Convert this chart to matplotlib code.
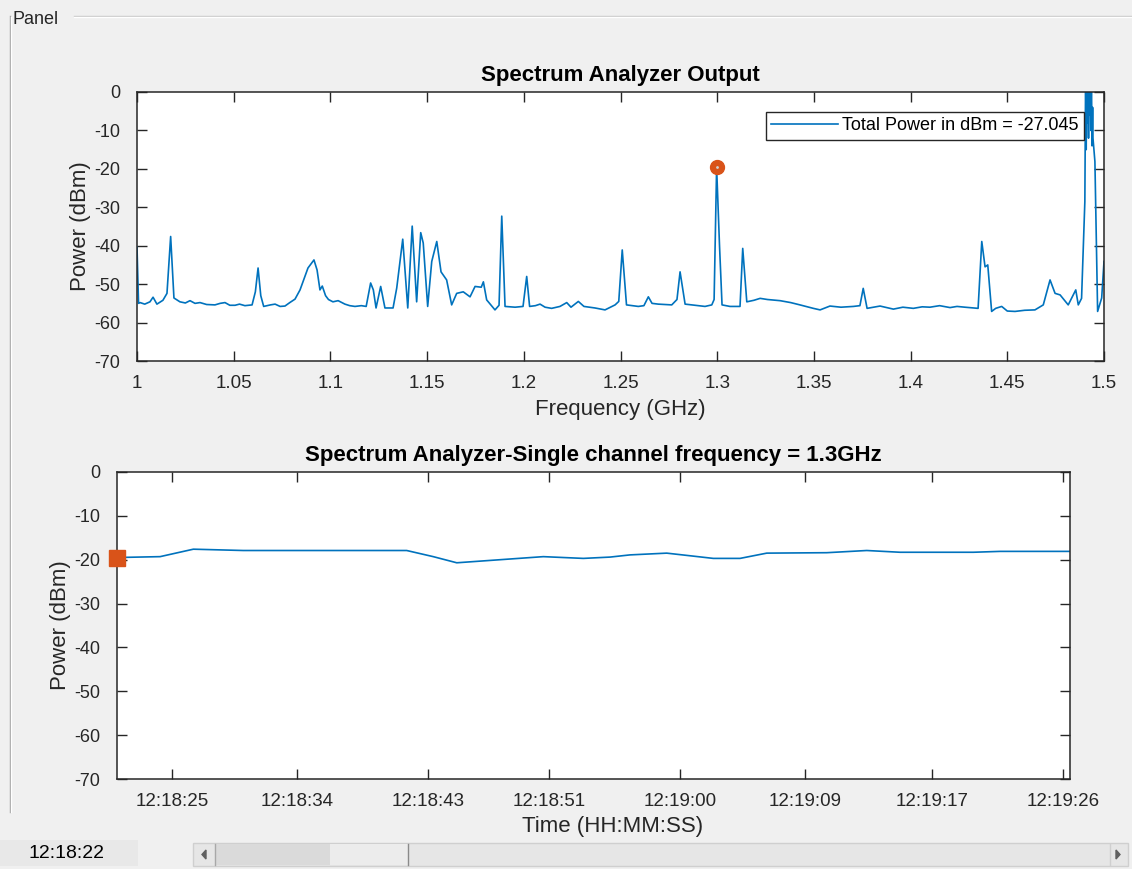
import numpy as np
import matplotlib.pyplot as plt
from matplotlib.patches import Rectangle, Polygon
from matplotlib.lines import Line2D

plt.rcParams['font.family'] = ['Liberation Sans', 'DejaVu Sans']

#%% DATA

# spectrum trace
freq_ghz = [1.0000, 1.0008, 1.0016, 1.0040, 1.0067, 1.0083, 1.0103, 1.0134, 1.0155, 1.0174,
            1.0191, 1.0222, 1.0250, 1.0274, 1.0300, 1.0326, 1.0360, 1.0403, 1.0430, 1.0455,
            1.0480, 1.0507, 1.0530, 1.0558, 1.0595, 1.0612, 1.0626, 1.0640, 1.0655, 1.0690,
            1.0714, 1.0740, 1.0765, 1.0790, 1.0817, 1.0843, 1.0884, 1.0915, 1.0931, 1.0946,
            1.0958, 1.0975, 1.0990, 1.1013, 1.1040, 1.1075, 1.1100, 1.1127, 1.1160, 1.1185,
            1.1208, 1.1222, 1.1236, 1.1260, 1.1282, 1.1324, 1.1343, 1.1374, 1.1400, 1.1423,
            1.1446, 1.1467, 1.1480, 1.1503, 1.1524, 1.1550, 1.1572, 1.1601, 1.1627, 1.1653,
            1.1687, 1.1722, 1.1748, 1.1780, 1.1791, 1.1808, 1.1851, 1.1872, 1.1886, 1.1903,
            1.1955, 1.1996, 1.2015, 1.2030, 1.2060, 1.2084, 1.2110, 1.2144, 1.2187, 1.2222,
            1.2244, 1.2282, 1.2311, 1.2368, 1.2420, 1.2472, 1.2491, 1.2509, 1.2531, 1.2592,
            1.2621, 1.2644, 1.2663, 1.2695, 1.2765, 1.2792, 1.2808, 1.2834, 1.2885, 1.2937,
            1.2972, 1.2984, 1.2997, 1.3012, 1.3025, 1.3066, 1.3118, 1.3132, 1.3153, 1.3190,
            1.3222, 1.3260, 1.3325, 1.3380, 1.3428, 1.3497, 1.3532, 1.3583, 1.3640, 1.3704,
            1.3738, 1.3755, 1.3775, 1.3842, 1.3911, 1.3960, 1.4014, 1.4060, 1.4100, 1.4150,
            1.4204, 1.4240, 1.4281, 1.4349, 1.4368, 1.4385, 1.4399, 1.4419, 1.4440, 1.4471,
            1.4500, 1.4540, 1.4590, 1.4643, 1.4686, 1.4721, 1.4747, 1.4773, 1.4815, 1.4854,
            1.4867, 1.4884, 1.4901, 1.4905, 1.4908, 1.4911, 1.4914, 1.4917, 1.4920, 1.4923,
            1.4926, 1.4929, 1.4932, 1.4935, 1.4938, 1.4941, 1.4943, 1.4953, 1.4967, 1.4988,
            1.5000]
power_dbm = [-40.3, -55.0, -54.8, -55.2, -54.6, -53.4, -55.2, -54.2, -52.4, -37.6,
             -53.6, -54.6, -54.9, -54.3, -55.0, -54.8, -55.3, -55.4, -55.0, -54.8,
             -55.5, -55.5, -55.2, -55.6, -55.4, -52.0, -45.8, -53.0, -55.8, -55.4,
             -55.2, -55.8, -55.7, -54.8, -53.9, -51.5, -45.8, -43.7, -46.3, -51.5,
             -50.5, -53.0, -54.0, -54.6, -54.3, -55.2, -55.6, -55.8, -55.6, -55.8,
             -49.7, -51.5, -56.2, -50.6, -56.2, -56.2, -51.0, -38.3, -56.2, -34.9,
             -54.6, -36.6, -39.3, -55.8, -44.1, -38.9, -46.8, -48.9, -55.4, -52.4,
             -52.0, -53.3, -50.6, -50.8, -49.4, -54.1, -56.7, -55.5, -32.3, -55.8,
             -56.0, -55.8, -48.0, -55.8, -55.6, -55.2, -56.0, -56.3, -55.8, -54.8,
             -56.0, -54.5, -55.8, -56.2, -56.7, -55.4, -54.5, -41.1, -55.4, -55.8,
             -55.6, -53.3, -55.0, -55.2, -55.4, -54.0, -46.8, -55.2, -55.5, -55.8,
             -55.4, -54.0, -19.6, -40.0, -55.4, -55.8, -55.8, -40.7, -54.6, -54.2,
             -53.7, -54.0, -54.3, -54.8, -55.4, -56.3, -56.7, -55.7, -56.0, -55.8,
             -55.6, -51.1, -56.3, -55.7, -56.5, -56.0, -56.3, -55.9, -56.0, -55.6,
             -56.1, -55.8, -56.0, -56.3, -38.9, -45.5, -45.0, -57.1, -56.3, -55.8,
             -57.0, -57.1, -56.8, -56.7, -55.4, -48.9, -52.4, -52.8, -55.4, -51.5,
             -55.4, -53.7, -28.5, 5.0, -15.0, 5.0, -8.0, 5.0, -12.0, 5.0,
             -6.0, 5.0, -10.0, 5.0, -14.0, -4.0, -12.0, -18.1, -57.1, -53.6,
             -44.1]

peak_freq = 1.2997
peak_power = -19.6
total_power = -27.045

x_ticks = [1, 1.05, 1.1, 1.15, 1.2, 1.25, 1.3, 1.35, 1.4, 1.45, 1.5]
x_labels = ["1", "1.05", "1.1", "1.15", "1.2", "1.25", "1.3", "1.35", "1.4", "1.45", "1.5"]
y_ticks = [0, -10, -20, -30, -40, -50, -60, -70]
y_labels = ["0", "-10", "-20", "-30", "-40", "-50", "-60", "-70"]

# single channel power vs time (seconds after 12:18:21)
time_s = [0.0, 2.95, 5.23, 8.65, 12.99, 19.84, 21.66, 23.27, 26.23, 29.20,
          31.94, 33.77, 35.14, 37.65, 39.25, 40.84, 42.67, 44.50, 48.61, 51.35,
          53.63, 58.65, 60.48, 65.27]
chan_dbm = [-19.5, -19.3, -17.6, -17.9, -17.9, -17.9, -19.3, -20.7, -20.0, -19.3,
            -19.7, -19.4, -18.9, -18.5, -19.1, -19.7, -19.7, -18.5, -18.4, -17.9,
            -18.3, -18.3, -18.1, -18.1]
t_ticks = [3.77, 12.33, 21.30, 29.59, 38.56, 47.12, 55.82, 64.79]
t_labels = ["12:18:25", "12:18:34", "12:18:43", "12:18:51", "12:19:00", "12:19:09", "12:19:17", "12:19:26"]
t_end = 65.27

#%% FIGURE

BLUE = "#0072BD"
ORANGE = "#D95319"
DARK = "#262626"
BG = "#f0f0f0"

W, H = 1132, 869
fig = plt.figure(figsize=(W/100, H/100), dpi=100, facecolor=BG)

def px(x0, y0, x1, y1):
    return [x0/W, 1 - y1/H, (x1-x0)/W, (y1-y0)/H]

def style(ax):
    ax.tick_params(direction="in", length=7, width=1, top=True, right=True,
                   colors=DARK, labelsize=13)
    ax.tick_params(axis="x", labelsize=13.5, pad=10)
    ax.tick_params(axis="y", pad=12)
    for s in ax.spines.values():
        s.set_color(DARK)
        s.set_linewidth(1.1)

# top: spectrum
ax1 = fig.add_axes(px(137, 92, 1104, 361))
ax1.plot(freq_ghz, power_dbm, color=BLUE, lw=1.2, label="Total Power in dBm = " + str(total_power))
ax1.plot([peak_freq], [peak_power], "o", color=ORANGE, ms=10, zorder=3)
ax1.plot([peak_freq], [peak_power], ".", color="#d0d0d0", ms=2, zorder=4)
ax1.set_xlim(1, 1.5)
ax1.set_ylim(-70, 0)
ax1.set_xticks(x_ticks, x_labels)
ax1.set_yticks(y_ticks, y_labels)
style(ax1)
ax1.set_title("Spectrum Analyzer Output", fontsize=16, fontweight="bold", color="black", pad=8)
ax1.set_xlabel("Frequency (GHz)", fontsize=16, color=DARK, labelpad=5)
ax1.set_ylabel("Power (dBm)", fontsize=16, color=DARK, labelpad=2)
leg = ax1.legend(loc="upper right", bbox_to_anchor=(0.979, 0.926), fontsize=13,
                 frameon=True, fancybox=False, edgecolor=DARK, framealpha=1,
                 handlelength=3.7, handletextpad=0.2, borderpad=0.3, borderaxespad=0)
leg.get_frame().set_linewidth(1.0)

# bottom: single channel
ax2 = fig.add_axes(px(117, 472, 1070, 779))
ax2.plot(time_s, chan_dbm, color=BLUE, lw=1.2)
ax2.plot([time_s[0]], [chan_dbm[0]], "s", color=ORANGE, ms=11, clip_on=False, zorder=5)
ax2.set_xlim(0, t_end)
ax2.set_ylim(-70, 0)
ax2.set_xticks(t_ticks, t_labels)
ax2.set_yticks(y_ticks, y_labels)
style(ax2)
ax2.set_title("Spectrum Analyzer-Single channel frequency = 1.3GHz", fontsize=16,
              fontweight="bold", color="black", pad=8)
ax2.set_xlabel("Time (HH:MM:SS)", fontsize=16, color=DARK, labelpad=4)
ax2.xaxis.set_label_coords(0.52, -0.12)
ax2.set_ylabel("Power (dBm)", fontsize=16, color=DARK, labelpad=2)

#%% PANEL DECORATION

def hline(x0, x1, y, c):
    fig.add_artist(Line2D([x0/W, x1/W], [1 - y/H, 1 - y/H], color=c, lw=1))

def vline(x, y0, y1, c):
    fig.add_artist(Line2D([x/W, x/W], [1 - y0/H, 1 - y1/H], color=c, lw=1))

hline(74, W, 16, "#c8c8c8")
hline(74, W, 17, "white")
vline(10, 16, 812, "#a0a0a0")
vline(11, 17, 812, "white")
fig.text(13/W, 1 - 19/H, "Panel", fontsize=13, color=DARK, va="center", ha="left")

# time text box
fig.add_artist(Rectangle((0, 1 - 866/H), 138/W, 26/H, transform=fig.transFigure,
                         facecolor="#e8e8e8", edgecolor="none"))
fig.text(67/W, 1 - 853/H, "12:18:22", fontsize=14, color="black", ha="center", va="center")

# slider
def rect(x0, y0, x1, y1, fc, ec="none"):
    fig.add_artist(Rectangle((x0/W, 1 - y1/H), (x1-x0)/W, (y1-y0)/H, transform=fig.transFigure,
                             facecolor=fc, edgecolor=ec, lw=1))

rect(193, 843, 1128, 866, "#e6e6e6", "#cfcfcf")
rect(215, 844, 330, 865, "#dadada")
rect(330, 844, 408, 865, "#ececec")
vline(215, 844, 865, "#a8a8a8")
vline(408, 844, 865, "#8a8a8a")
vline(1110, 844, 865, "#cfcfcf")
fig.add_artist(Polygon([[202/W, 1 - 854.5/H], [206/W, 1 - 850/H], [206/W, 1 - 859/H]],
                       closed=True, transform=fig.transFigure, color="#606060"))
fig.add_artist(Polygon([[1120/W, 1 - 854.5/H], [1116/W, 1 - 850/H], [1116/W, 1 - 859/H]],
                       closed=True, transform=fig.transFigure, color="#606060"))

fig.savefig("out.png", dpi=100, facecolor=BG)
